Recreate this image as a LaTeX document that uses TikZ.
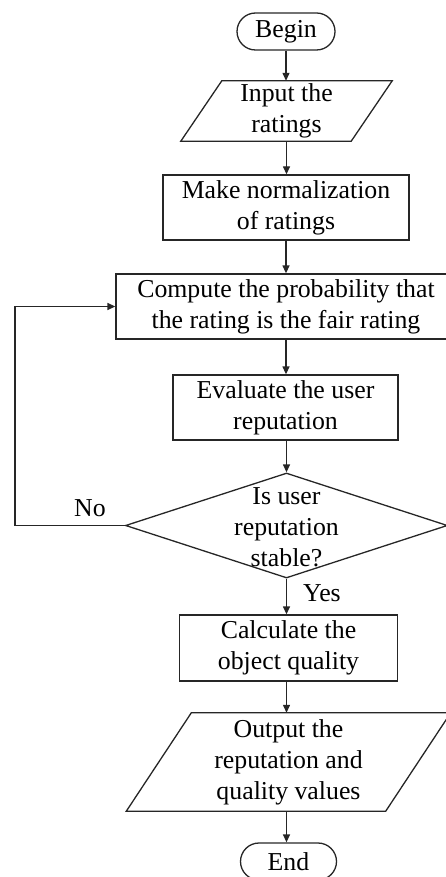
\documentclass[tikz,border=0pt]{standalone}
\usepackage{fontspec}
\setmainfont{Liberation Serif}
\usetikzlibrary{arrows.meta,shapes.geometric}
\begin{document}
\begin{tikzpicture}[x=1pt,y=-1pt,
  font=\fontsize{25.8}{31}\selectfont,
  every node/.style={align=center, inner sep=0pt},
  line/.style={draw=black!85, line width=1.3pt},
  arr/.style={line, -{Triangle[length=8pt,width=7pt]}},
  box/.style={line, rectangle, minimum width=#1},
  term/.style={line, rectangle, rounded corners=18.5pt, minimum width=#1, minimum height=37},
  iobody/.style={rectangle, minimum width=#1},
  dec/.style={line, diamond, minimum width=322, minimum height=105}
]
\useasboundingbox (0,0) rectangle (445,877);

% nodes
\node[term=98] (begin) at (286,31.5) {Begin};
\node[iobody=170, minimum height=60] (in) at (286.5,111) {Input the\\ratings};
\draw[line] ([xshift=20.5pt]in.north west) -- ([xshift=20.5pt]in.north east)
  -- ([xshift=-20.5pt]in.south east) -- ([xshift=-20.5pt]in.south west) -- cycle;
\node[box=246, minimum height=65] (norm) at (286,207.5) {Make normalization\\of ratings};
\node[box=340, minimum height=65] (comp) at (286,306.5) {Compute the probability that\\the rating is the fair rating};
\node[box=225, minimum height=65] (eval) at (285.5,407.5) {Evaluate the user\\reputation};
\node[dec] (dec) at (286.5,525.5) {};
\node (dect) at (286.5,527) {Is user\\reputation\\stable?};
\node[box=218, minimum height=66] (calc) at (288.5,648) {Calculate the\\object quality};
\node[iobody=259, minimum height=98] (out) at (288.5,762) {Output the\\reputation and\\quality values};
\draw[line] ([xshift=32.5pt]out.north west) -- ([xshift=32.5pt]out.north east)
  -- ([xshift=-32.5pt]out.south east) -- ([xshift=-32.5pt]out.south west) -- cycle;
\node[term=96] (end) at (288.5,861.5) {End};

\node (no) at (90,508.5) {No};
\node (yes) at (322,593) {Yes};
\coordinate (lp) at (15,525.5);

% connectors
\draw[arr] (begin.south) -- (begin.south |- in.north);
\draw[arr] (in.south) -- (in.south |- norm.north);
\draw[arr] (norm.south) -- (norm.south |- comp.north);
\draw[arr] (comp.south) -- (comp.south |- eval.north);
\draw[arr] (eval.south -| dec.north) -- (dec.north);
\draw[arr] (dec.south) -- (dec.south |- calc.north);
\draw[arr] (calc.south -| dec.south) -- (dec.south |- out.north);
\draw[arr] (out.south -| dec.south) -- (dec.south |- end.north);
\draw[arr] (dec.west) -- (lp) |- (comp.west);
\end{tikzpicture}
\end{document}
